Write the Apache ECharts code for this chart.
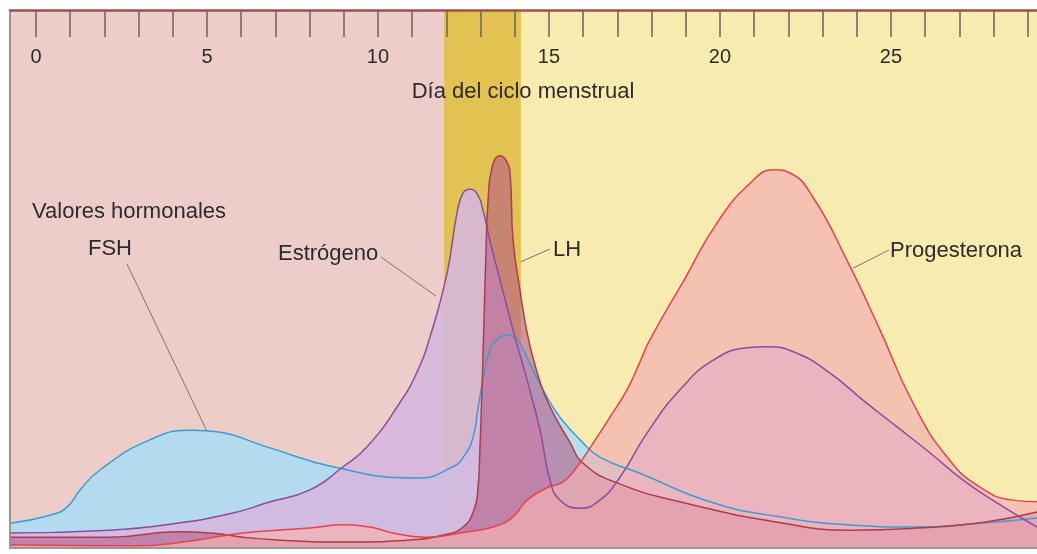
<!DOCTYPE html>
<html>
<head>
<meta charset="utf-8">
<title>Valores hormonales - ciclo menstrual</title>
<script src="https://cdn.jsdelivr.net/npm/echarts@6/dist/echarts.min.js"></script>
<style>
  html, body { margin: 0; padding: 0; background: #fff; }
  #chart { width: 1037px; height: 554px; }
</style>
</head>
<body>
<div id="chart"></div>
<script>
// eje x: día del ciclo
const dayMin = -0.76;
const dayMax = 29.27;
const tickDays = [0, 1, 2, 3, 4, 5, 6, 7, 8, 9, 10, 11, 12, 13, 14, 15, 16, 17, 18, 19, 20, 21, 22, 23, 24, 25, 26, 27, 28, 29];
const labelDays = [0, 5, 10, 15, 20, 25];

// fondo: fase folicular, ovulación, fase lútea
const phaseBands = [[-0.76, 11.93], [11.93, 14.18], [14.18, 29.27]];

// niveles hormonales (unidades relativas 0-100), [día, valor]
const fsh = [
  [-0.76, 4.6], [0.41, 6.1], [0.91, 7.6], [1.29, 10.8], [1.87, 14.5], [3.33, 20.1],
  [4.59, 21.9], [5.29, 21.6], [6.75, 18.8], [8.68, 15.1], [11.14, 13.0], [12.19, 15.1],
  [12.54, 17.3], [12.78, 20.6], [12.92, 25.7], [13.07, 31.2], [13.27, 36.8], [13.57, 39.2],
  [13.77, 39.6], [14.01, 39.0], [14.15, 38.1], [14.53, 33.1], [14.94, 28.1], [15.32, 24.3],
  [15.91, 20.1], [16.49, 16.9], [17.66, 13.9], [19.80, 8.4], [21.75, 5.8], [23.71, 4.3],
  [25.64, 3.9], [27.60, 4.6], [29.27, 5.6]
];
const estrogeno = [
  [-0.76, 2.8], [2.16, 3.3], [4.12, 4.6], [5.76, 6.5], [6.75, 8.4], [8.01, 10.8],
  [8.98, 15.1], [9.68, 18.8], [10.64, 27.0], [11.14, 32.7], [11.52, 39.2], [12.02, 51.1],
  [12.31, 62.3], [12.49, 66.0], [12.69, 66.7], [12.92, 65.6], [13.07, 62.8], [13.27, 57.2],
  [13.57, 49.8], [13.95, 40.5], [14.36, 31.2], [14.74, 21.9], [15.03, 12.6], [15.32, 8.9],
  [15.91, 7.4], [16.49, 8.9], [17.08, 13.2], [17.87, 21.4], [18.83, 29.4], [19.80, 34.9],
  [20.79, 37.2], [21.37, 37.4], [22.25, 36.2], [23.22, 32.5], [24.18, 27.5], [25.18, 22.5],
  [26.14, 17.7], [27.11, 12.6], [28.10, 8.4], [29.27, 3.9]
];
const lh = [
  [-0.76, 2.0], [2.16, 2.0], [4.12, 3.0], [5.09, 2.8], [6.05, 2.0], [7.05, 1.5],
  [8.98, 1.1], [10.94, 1.5], [11.90, 2.4], [12.49, 3.9], [12.81, 7.1], [12.92, 10.8],
  [12.98, 18.2], [13.04, 29.4], [13.10, 42.4], [13.16, 55.4], [13.22, 64.7], [13.33, 70.6],
  [13.57, 72.9], [13.74, 72.1], [13.86, 69.7], [13.95, 57.2], [14.15, 48.0], [14.36, 40.0],
  [14.59, 34.0], [14.88, 28.4], [15.23, 23.8], [15.61, 19.7], [15.99, 15.8], [16.99, 12.1],
  [18.95, 8.4], [21.87, 4.6], [23.80, 3.3], [25.76, 3.7], [27.72, 4.8], [29.27, 6.7]
];
const progesterona = [
  [-0.76, 0.6], [2.84, 0.4], [4.30, 1.1], [6.05, 2.8], [8.01, 3.7], [8.98, 4.3],
  [9.77, 3.9], [10.44, 2.8], [11.43, 2.0], [12.40, 2.8], [13.36, 3.9], [13.95, 5.8],
  [14.36, 8.9], [14.94, 11.2], [15.41, 12.3], [15.82, 15.1], [16.29, 19.5], [16.78, 24.3],
  [17.28, 29.4], [17.66, 34.6], [17.95, 38.7], [18.95, 49.8], [19.91, 60.4], [20.88, 67.8],
  [21.58, 70.3], [22.05, 69.7], [22.72, 65.2], [23.71, 53.5], [24.68, 40.5], [25.64, 27.0],
  [26.64, 16.9], [27.60, 11.3], [28.57, 8.9], [29.27, 8.6]
];

// puntos de las curvas a los que apuntan las etiquetas
const labelNames = ['FSH', 'Estrógeno', 'LH', 'Progesterona'];
const labelAnchors = [[5.0, 21.7], [11.7, 46.8], [14.18, 53.2], [23.89, 52.0]];

const FONT = '"Liberation Sans", Arial, sans-serif';
const TEXT = '#2e2b2b';

const hormones = [
  { name: 'FSH', data: fsh, line: '#3f9ccf', fill: 'rgba(170,220,246,0.85)' },
  { name: 'Estrógeno', data: estrogeno, line: '#8b4c9c', fill: 'rgba(214,182,222,0.88)' },
  { name: 'LH', data: lh, line: '#ad3b4c', fill: 'rgba(182,92,135,0.6)' },
  { name: 'Progesterona', data: progesterona, line: '#e4434f', fill: 'rgba(244,176,178,0.7)' }
];
const bandColors = ['#eccdca', '#e2c250', '#f7ebb0'];

let chart = echarts.init(document.getElementById('chart'));

let series = [];
// fondo por fases
series.push({
  type: 'line',
  data: [],
  silent: true,
  z: 0,
  markArea: {
    silent: true,
    data: phaseBands.map((b, i) => [
      { xAxis: b[0], itemStyle: { color: bandColors[i], opacity: 1 } },
      { xAxis: b[1] }
    ])
  }
});
// rellenos
hormones.forEach((h, i) => {
  series.push({
    type: 'line',
    name: h.name + '-area',
    data: h.data,
    smooth: 0.5,
    symbol: 'none',
    silent: true,
    z: 2 + i,
    lineStyle: { width: 0 },
    areaStyle: { color: h.fill, opacity: 1 }
  });
});
// contornos encima
hormones.forEach((h) => {
  series.push({
    type: 'line',
    name: h.name,
    data: h.data,
    smooth: 0.5,
    symbol: 'none',
    silent: true,
    z: 10,
    lineStyle: { color: h.line, width: 1.5 }
  });
});

let option = {
  animation: false,
  backgroundColor: '#ffffff',
  grid: { left: 10, right: 0, top: 10, bottom: 6 },
  xAxis: [
    {
      type: 'value',
      position: 'top',
      z: 50,
      min: dayMin,
      max: dayMax,
      axisLine: { show: true, onZero: false, lineStyle: { color: '#9c5050', width: 2.5 } },
      axisTick: {
        show: true,
        inside: true,
        length: 27,
        customValues: tickDays,
        lineStyle: { color: '#6e6262', width: 1.5 }
      },
      axisLabel: {
        show: true,
        inside: true,
        margin: 37,
        customValues: labelDays,
        fontSize: 20,
        fontFamily: FONT,
        color: TEXT
      },
      splitLine: { show: false }
    },
    {
      type: 'value',
      position: 'bottom',
      z: 50,
      min: dayMin,
      max: dayMax,
      axisLine: { show: true, onZero: false, lineStyle: { color: '#a39595', width: 2 } },
      axisTick: { show: false },
      axisLabel: { show: false },
      splitLine: { show: false }
    }
  ],
  yAxis: {
    type: 'value',
    z: 50,
    min: 0,
    max: 100,
    axisLine: { show: true, onZero: false, lineStyle: { color: '#9d9191', width: 2 } },
    axisTick: { show: false },
    axisLabel: { show: false },
    splitLine: { show: false }
  },
  series: series
};

option && chart.setOption(option);

// textos y líneas guía
let textPos = [[88, 249], [278, 254], [553, 250], [890, 251]];
let leaderStart = [[127, 264], [381, 257], [550, 249], [889, 250]];

let graphics = [
  {
    type: 'text', x: 523, y: 92, z: 100,
    style: { text: 'Día del ciclo menstrual', font: '22px ' + FONT, fill: TEXT, align: 'center', verticalAlign: 'middle' }
  },
  {
    type: 'text', x: 32, y: 212, z: 100,
    style: { text: 'Valores hormonales', font: '22px ' + FONT, fill: TEXT, align: 'left', verticalAlign: 'middle' }
  }
];
labelNames.forEach((name, i) => {
  let p = chart.convertToPixel({ xAxisIndex: 0, yAxisIndex: 0 }, labelAnchors[i]);
  graphics.push({
    type: 'line', z: 99, silent: true,
    shape: { x1: leaderStart[i][0], y1: leaderStart[i][1], x2: p[0], y2: p[1] },
    style: { stroke: '#7d7272', lineWidth: 1 }
  });
  graphics.push({
    type: 'text', x: textPos[i][0], y: textPos[i][1], z: 100,
    style: { text: name, font: '22px ' + FONT, fill: TEXT, align: 'left', verticalAlign: 'middle' }
  });
});
chart.setOption({ graphic: graphics });
</script>
</body>
</html>
